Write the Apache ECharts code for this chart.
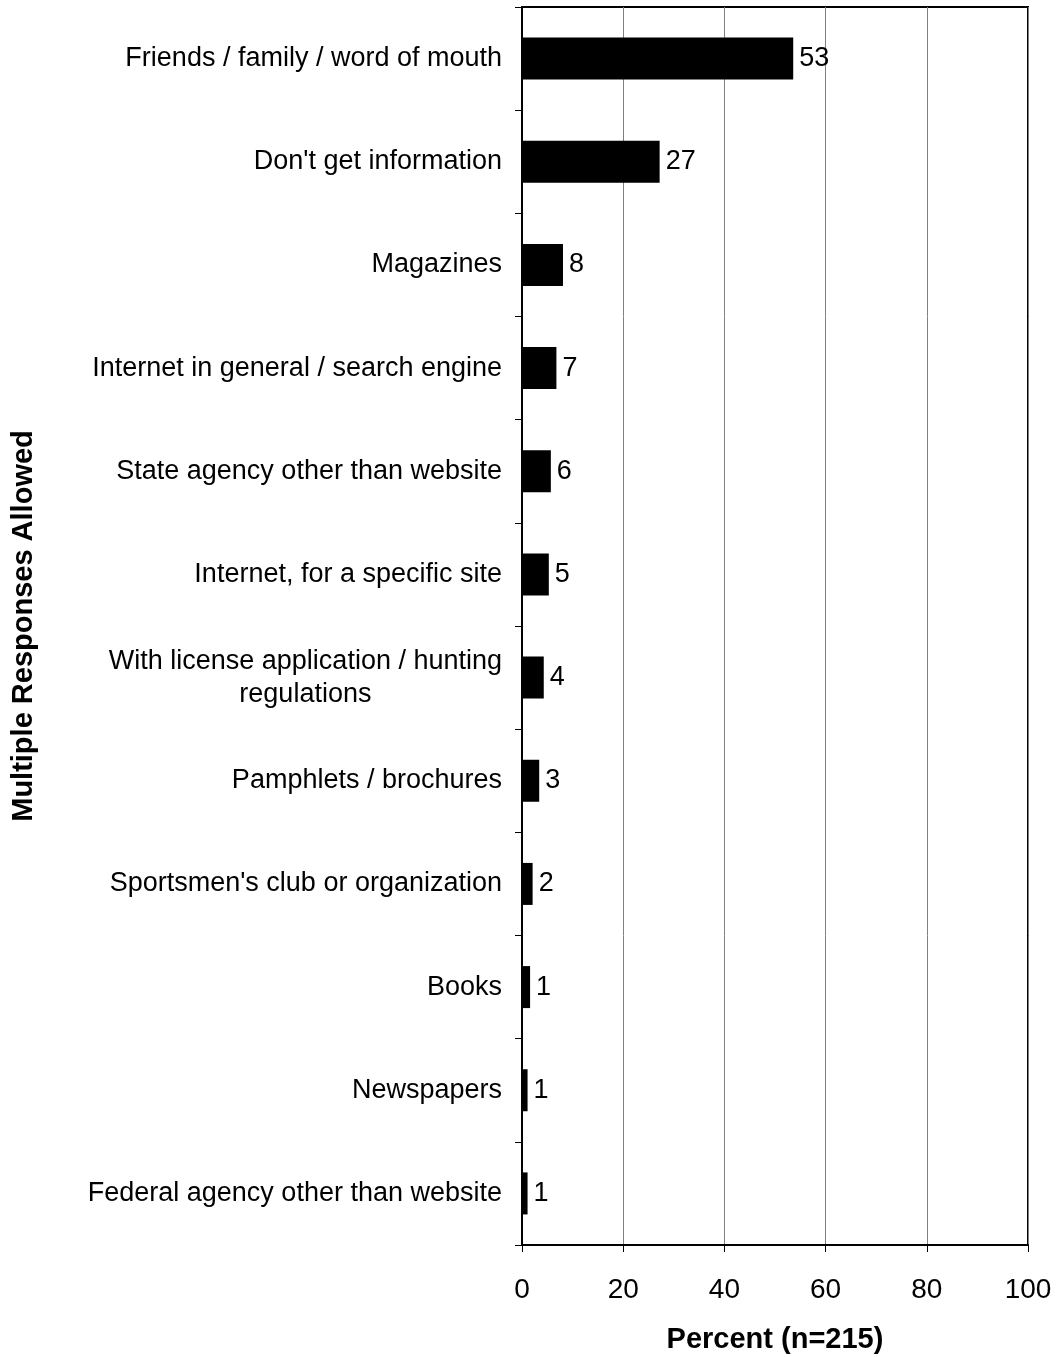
<!DOCTYPE html>
<html>
<head>
<meta charset="utf-8">
<script src="https://cdn.jsdelivr.net/npm/echarts@6/dist/echarts.min.js"></script>
<style>
  html, body { margin: 0; padding: 0; background: #fff; }
  #chart { width: 1057px; height: 1357px; }
</style>
</head>
<body>
<div id="chart"></div>
<script>
// categories, top to bottom
var categories = [
  'Friends / family / word of mouth',
  "Don't get information",
  'Magazines',
  'Internet in general / search engine',
  'State agency other than website',
  'Internet, for a specific site',
  'With license application / hunting\nregulations',
  'Pamphlets / brochures',
  "Sportsmen's club or organization",
  'Books',
  'Newspapers',
  'Federal agency other than website'
];
// bar lengths
var values = [53.6, 27.2, 8.1, 6.8, 5.7, 5.3, 4.3, 3.4, 2.1, 1.6, 1.1, 1.1];
// printed labels
var labels = ['53', '27', '8', '7', '6', '5', '4', '3', '2', '1', '1', '1'];
var xTicks = [0, 20, 40, 60, 80, 100];

var font = '"Liberation Sans", Arial, sans-serif';
var chart = echarts.init(document.getElementById('chart'));

var option = {
  animation: false,
  backgroundColor: '#fff',
  grid: {
    left: 522,
    right: 29,
    top: 7,
    bottom: 112,
    outerBoundsMode: 'none',
    containLabel: false,
    show: true,
    borderColor: '#000',
    borderWidth: 2,
    backgroundColor: 'transparent'
  },
  xAxis: {
    type: 'value',
    min: xTicks[0],
    max: xTicks[xTicks.length - 1],
    interval: 20,
    name: 'Percent (n=215)',
    nameLocation: 'middle',
    nameGap: 80,
    nameTextStyle: { fontFamily: font, fontSize: 29, fontWeight: 'bold', color: '#000' },
    axisLine: { show: true, lineStyle: { color: '#000', width: 2 } },
    axisTick: { show: true, length: 7, lineStyle: { color: '#000', width: 1 } },
    axisLabel: { fontFamily: font, fontSize: 28, color: '#000', margin: 31 },
    splitLine: { show: true, lineStyle: { color: '#808080', width: 1 } }
  },
  yAxis: {
    type: 'category',
    data: categories,
    inverse: true,
    name: 'Multiple Responses Allowed',
    nameLocation: 'middle',
    nameGap: 484,
    nameRotate: 90,
    nameTextStyle: { fontFamily: font, fontSize: 29, fontWeight: 'bold', color: '#000' },
    axisLine: { show: true, lineStyle: { color: '#000', width: 2 } },
    axisTick: { show: true, length: 7, lineStyle: { color: '#000', width: 1 } },
    axisLabel: {
      fontFamily: font,
      fontSize: 27,
      color: '#000',
      margin: 20,
      lineHeight: 33,
      formatter: function (v) {
        if (v.indexOf('\n') >= 0) {
          return v.split('\n').map(function (s) { return '{c|' + s + '}'; }).join('\n');
        }
        return v;
      },
      rich: {
        c: { fontFamily: font, fontSize: 27, color: '#000', align: 'center', lineHeight: 33 }
      }
    },
    splitLine: { show: false }
  },
  series: [{
    type: 'bar',
    data: values,
    barWidth: 42,
    itemStyle: { color: '#000' },
    label: {
      show: true,
      position: 'right',
      distance: 6,
      fontFamily: font,
      fontSize: 27,
      color: '#000',
      formatter: function (p) { return labels[p.dataIndex]; }
    }
  }]
};
chart.setOption(option);
</script>
</body>
</html>
